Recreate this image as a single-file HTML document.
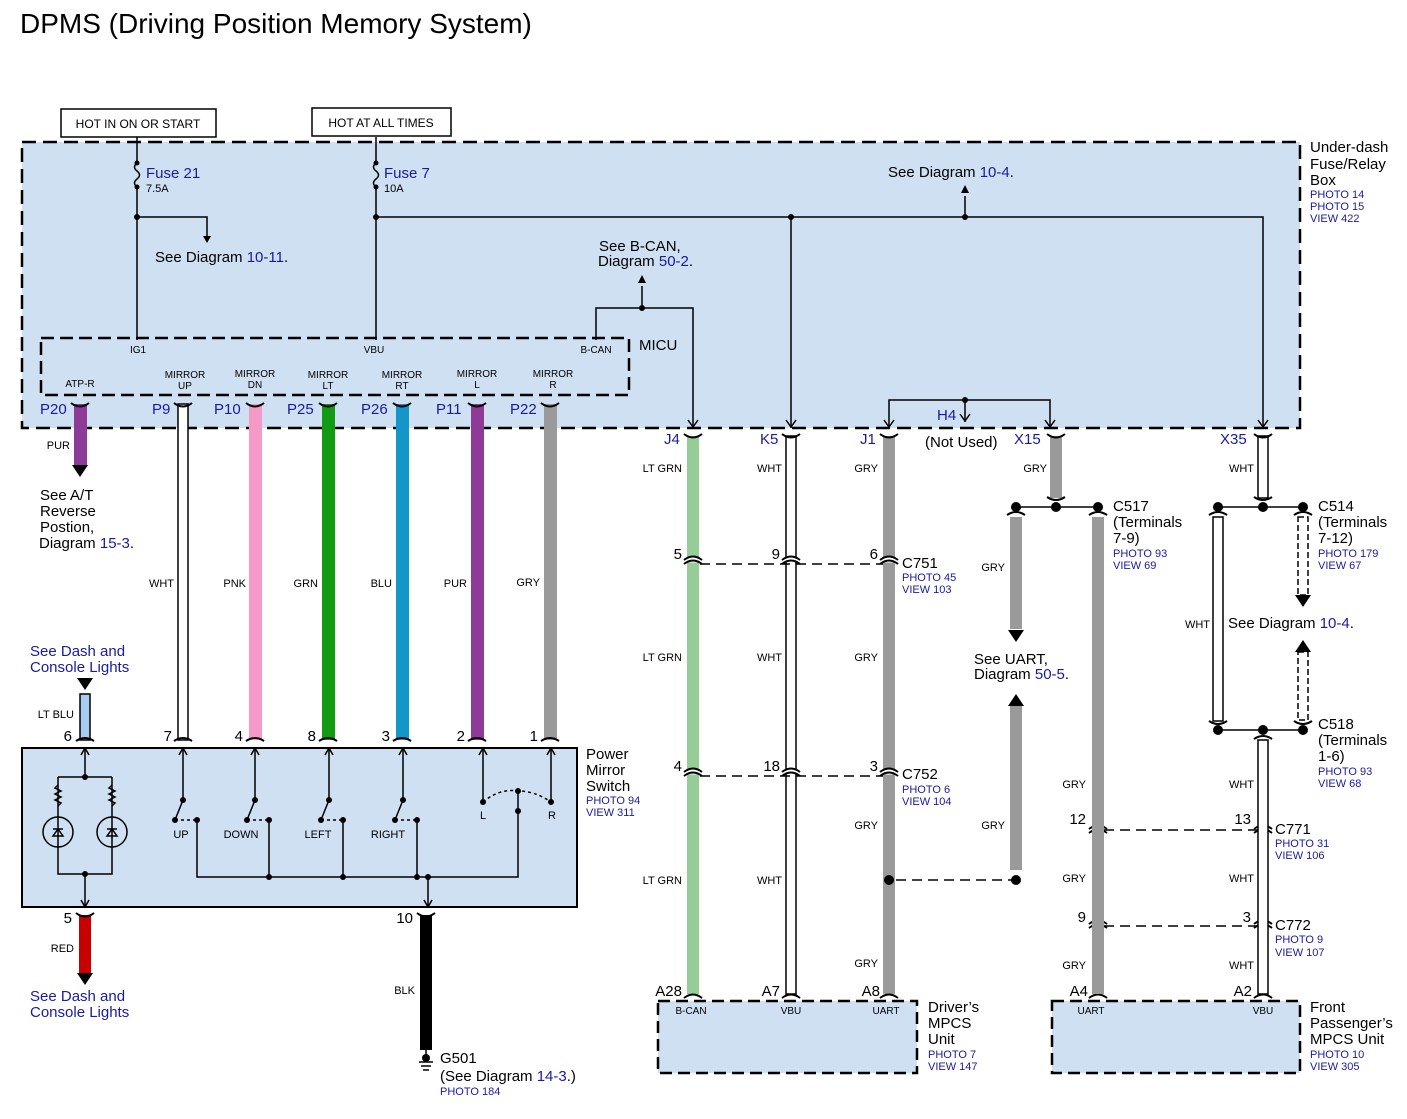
<!DOCTYPE html>
<html><head><meta charset="utf-8"><style>
html,body{margin:0;padding:0;background:#fff}
svg{display:block;font-family:"Liberation Sans",Arial,sans-serif}
.b{fill:#1a1aa0}
.s{font-size:11px}
.m{font-size:15px}
.t{font-size:10px}
</style></head><body>
<svg width="1407" height="1119" viewBox="0 0 1407 1119" xmlns="http://www.w3.org/2000/svg">
<defs>
<path id="cu" d="M-9 4 Q0 -3 9 4 M-9 8 Q0 1 9 8" fill="none" stroke="#000" stroke-width="2"/>
<path id="cd" d="M-9 -2 Q0 5 9 -2" fill="none" stroke="#000" stroke-width="2"/>
<path id="ad" d="M-8 -12 L8 -12 L0 0 Z" fill="#000"/>
<path id="au" d="M-8 12 L8 12 L0 0 Z" fill="#000"/>
<path id="sa" d="M-5 -7 L0 0 L5 -7" fill="none" stroke="#000" stroke-width="1.5"/>
</defs>
<text x="20" y="33" font-size="28">DPMS (Driving Position Memory System)</text>

<rect x="22" y="142" width="1278" height="286" fill="#cfe0f3" stroke="#000" stroke-width="2.5" stroke-dasharray="14 7"/>
<rect x="61" y="109" width="155" height="28" fill="#fff" stroke="#000" stroke-width="1.5"/>
<text x="138" y="128" text-anchor="middle" style="font-size:12px">HOT IN ON OR START</text>
<rect x="312" y="108" width="139" height="28" fill="#fff" stroke="#000" stroke-width="1.5"/>
<text x="381" y="127" text-anchor="middle" style="font-size:12px">HOT AT ALL TIMES</text>
<text x="1310" y="152" class="m">Under-dash</text>
<text x="1310" y="169" class="m">Fuse/Relay</text>
<text x="1310" y="185" class="m">Box</text>
<text x="1310" y="198" class="s b">PHOTO 14</text>
<text x="1310" y="210" class="s b">PHOTO 15</text>
<text x="1310" y="222" class="s b">VIEW 422</text>

<g stroke="#000" stroke-width="1.5" fill="none">
<line x1="137" y1="137" x2="137" y2="163"/>
<path d="M137 163 q-5 4 0 8 q5 4 0 8 q-5 4 0 8"/>
<line x1="137" y1="187" x2="137" y2="340"/>
<line x1="376" y1="137" x2="376" y2="163"/>
<path d="M376 163 q-5 4 0 8 q5 4 0 8 q-5 4 0 8"/>
<line x1="376" y1="187" x2="376" y2="340"/>
<path d="M137 217 H207 V236"/>
<path d="M376 217 H1263 V428"/>
<line x1="791" y1="217" x2="791" y2="428"/>
<line x1="965" y1="217" x2="965" y2="196"/>
<path d="M596 340 V308 H693 V428"/>
<line x1="642" y1="308" x2="642" y2="286"/>
<path d="M889 428 V400 H1050 V428"/>
<line x1="965" y1="400" x2="965" y2="422"/>
</g>
<g fill="#000">
<circle cx="137" cy="163" r="2.5"/><circle cx="137" cy="187" r="2.5"/>
<circle cx="376" cy="163" r="2.5"/><circle cx="376" cy="187" r="2.5"/>
<circle cx="137" cy="217" r="3"/><circle cx="376" cy="217" r="3"/>
<circle cx="791" cy="217" r="3"/><circle cx="965" cy="217" r="3"/>
<circle cx="642" cy="308" r="3"/><circle cx="965" cy="400" r="3"/>
<path d="M203 236 L211 236 L207 243Z"/>
<path d="M961 193 L969 193 L965 185Z"/>
<path d="M638 283 L646 283 L642 275Z"/>
</g>
<use href="#sa" x="693" y="427"/><use href="#sa" x="791" y="427"/><use href="#sa" x="1263" y="427"/>
<use href="#sa" x="889" y="427"/><use href="#sa" x="965" y="421"/><use href="#sa" x="1050" y="427"/>

<text x="146" y="178" class="m b">Fuse 21</text><text x="146" y="192" class="s">7.5A</text>
<text x="384" y="178" class="m b">Fuse 7</text><text x="384" y="192" class="s">10A</text>
<text x="155" y="262" class="m">See Diagram <tspan class="b">10-11</tspan>.</text>
<text x="599" y="251" class="m">See B-CAN,</text>
<text x="598" y="266" class="m">Diagram <tspan class="b">50-2</tspan>.</text>
<text x="888" y="177" class="m">See Diagram <tspan class="b">10-4</tspan>.</text>

<rect x="41" y="338" width="588" height="57" fill="none" stroke="#000" stroke-width="2.5" stroke-dasharray="13 6"/>
<text x="639" y="350" class="m">MICU</text>
<g class="t" text-anchor="middle">
<text x="138" y="353">IG1</text><text x="374" y="353">VBU</text><text x="596" y="353">B-CAN</text>
<text x="80" y="387">ATP-R</text>
<text x="185" y="378">MIRROR</text><text x="185" y="389">UP</text>
<text x="255" y="377">MIRROR</text><text x="255" y="388">DN</text>
<text x="328" y="378">MIRROR</text><text x="328" y="389">LT</text>
<text x="402" y="378">MIRROR</text><text x="402" y="389">RT</text>
<text x="477" y="377">MIRROR</text><text x="477" y="388">L</text>
<text x="553" y="377">MIRROR</text><text x="553" y="388">R</text>
</g>
<g class="m b">
<text x="40" y="414">P20</text><text x="152" y="414">P9</text><text x="214" y="414">P10</text>
<text x="287" y="414">P25</text><text x="361" y="414">P26</text><text x="436" y="414">P11</text><text x="510" y="414">P22</text>
</g>

<rect x="74" y="404" width="13" height="62" fill="#8e3a98"/>
<use href="#ad" x="80" y="477"/>
<rect x="178" y="404" width="10" height="336" fill="#fff" stroke="#000" stroke-width="1.5"/>
<rect x="249" y="404" width="13" height="336" fill="#f59ac8"/>
<rect x="322" y="404" width="13" height="336" fill="#129a12"/>
<rect x="396" y="404" width="13" height="336" fill="#1496c8"/>
<rect x="471" y="404" width="13" height="336" fill="#8e3a98"/>
<rect x="544" y="404" width="13" height="336" fill="#9a9a9a"/>
<g>
<use href="#cd" x="80" y="405"/><use href="#cd" x="183" y="405"/><use href="#cd" x="255" y="405"/><use href="#cd" x="328" y="405"/><use href="#cd" x="402" y="405"/><use href="#cd" x="477" y="405"/><use href="#cd" x="550" y="405"/>
</g>
<g class="s" text-anchor="end">
<text x="70" y="449">PUR</text><text x="174" y="587">WHT</text><text x="246" y="587">PNK</text>
<text x="318" y="587">GRN</text><text x="392" y="587">BLU</text><text x="467" y="587">PUR</text><text x="540" y="586">GRY</text>
<text x="74" y="718">LT BLU</text><text x="74" y="952">RED</text><text x="415" y="994">BLK</text>
</g>
<text x="40" y="500" class="m">See A/T</text><text x="40" y="516" class="m">Reverse</text>
<text x="40" y="532" class="m">Postion,</text><text x="39" y="548" class="m">Diagram <tspan class="b">15-3</tspan>.</text>
<text x="30" y="656" class="m b">See Dash and</text><text x="30" y="672" class="m b">Console Lights</text>
<use href="#ad" x="85" y="690"/>
<rect x="80" y="694" width="10" height="46" fill="#a8cdf0" stroke="#000" stroke-width="1.5"/>
<g stroke="#000" stroke-width="2" fill="none">
<path d="M76 741 Q85 735 94 741"/><path d="M174 741 Q183 735 192 741"/><path d="M246 741 Q255 735 264 741"/><path d="M319 741 Q328 735 337 741"/><path d="M393 741 Q402 735 411 741"/><path d="M468 741 Q477 735 486 741"/><path d="M541 741 Q550 735 559 741"/>
</g>
<g class="m" text-anchor="end">
<text x="72" y="741">6</text><text x="172" y="741">7</text><text x="243" y="741">4</text><text x="316" y="741">8</text><text x="390" y="741">3</text><text x="465" y="741">2</text><text x="538" y="741">1</text>
<text x="72" y="923">5</text><text x="413" y="923">10</text>
</g>

<rect x="22" y="748" width="555" height="159" fill="#cfe0f3" stroke="#000" stroke-width="2"/>
<text x="586" y="759" class="m">Power</text><text x="586" y="775" class="m">Mirror</text><text x="586" y="791" class="m">Switch</text>
<text x="586" y="804" class="s b">PHOTO 94</text><text x="586" y="816" class="s b">VIEW 311</text>
<g stroke="#000" stroke-width="1.5" fill="none">
<line x1="85" y1="748" x2="85" y2="777"/>
<path d="M58 777 H112 M58 777 V874 H112 V777"/>
<line x1="85" y1="874" x2="85" y2="907"/>
<path d="M58 785 l-3 3 6 3 -6 3 6 3 -6 3 6 3 -3 3"/>
<path d="M112 785 l-3 3 6 3 -6 3 6 3 -6 3 6 3 -3 3"/>
<circle cx="58" cy="832" r="15"/><circle cx="112" cy="832" r="15"/>
<path d="M53 829 h10 M58 829 l-5 7 h10z M53 836 h10"/><path d="M107 829 h10 M112 829 l-5 7 h10z M107 836 h10"/>
<line x1="183" y1="748" x2="183" y2="800"/><line x1="183" y1="800" x2="175" y2="820"/>
<line x1="255" y1="748" x2="255" y2="800"/><line x1="255" y1="800" x2="247" y2="820"/>
<line x1="329" y1="748" x2="329" y2="800"/><line x1="329" y1="800" x2="321" y2="820"/>
<line x1="403" y1="748" x2="403" y2="800"/><line x1="403" y1="800" x2="395" y2="820"/>
<line x1="483" y1="748" x2="483" y2="802"/><line x1="551" y1="748" x2="551" y2="802"/>
<path d="M483 802 Q500 788 518 791 Q535 791 551 802" stroke-dasharray="3 3"/>
<path d="M175 820 h22 M247 820 h22 M321 820 h22 M395 820 h22" stroke-dasharray="3 3"/>
<path d="M197 820 V877 H518 V791"/>
<line x1="269" y1="820" x2="269" y2="877"/><line x1="343" y1="820" x2="343" y2="877"/><line x1="417" y1="820" x2="417" y2="877"/>
<line x1="428" y1="877" x2="428" y2="907"/>
</g>
<g fill="#000">
<circle cx="85" cy="777" r="3"/><circle cx="85" cy="874" r="3"/>
<circle cx="183" cy="800" r="3"/><circle cx="175" cy="820" r="3"/><circle cx="197" cy="820" r="3"/>
<circle cx="255" cy="800" r="3"/><circle cx="247" cy="820" r="3"/><circle cx="269" cy="820" r="3"/>
<circle cx="329" cy="800" r="3"/><circle cx="321" cy="820" r="3"/><circle cx="343" cy="820" r="3"/>
<circle cx="403" cy="800" r="3"/><circle cx="395" cy="820" r="3"/><circle cx="417" cy="820" r="3"/>
<circle cx="483" cy="802" r="3"/><circle cx="551" cy="802" r="3"/><circle cx="518" cy="791" r="3"/><circle cx="518" cy="811" r="3"/>
<circle cx="269" cy="877" r="3"/><circle cx="343" cy="877" r="3"/><circle cx="417" cy="877" r="3"/><circle cx="428" cy="877" r="3"/>
</g>
<g class="s" text-anchor="middle">
<text x="181" y="838">UP</text><text x="241" y="838">DOWN</text><text x="318" y="838">LEFT</text><text x="388" y="838">RIGHT</text>
<text x="483" y="819">L</text><text x="552" y="819">R</text>
</g>
<g stroke="#000" stroke-width="1.5" fill="none">
<path d="M81 755 L85 748 L89 755 M179 755 L183 748 L187 755 M251 755 L255 748 L259 755 M325 755 L329 748 L333 755 M399 755 L403 748 L407 755 M479 755 L483 748 L487 755 M547 755 L551 748 L555 755 M81 900 L85 907 L89 900 M424 900 L428 907 L432 900"/>
</g>
<rect x="79" y="915" width="12" height="58" fill="#c80000"/><use href="#cd" x="85" y="915"/>
<use href="#ad" x="85" y="985"/>
<text x="30" y="1001" class="m b">See Dash and</text><text x="30" y="1017" class="m b">Console Lights</text>
<rect x="420" y="915" width="12" height="135" fill="#000"/><use href="#cd" x="426" y="915"/>
<g stroke="#000" stroke-width="1.5"><line x1="426" y1="1050" x2="426" y2="1060"/><line x1="419" y1="1062" x2="433" y2="1062"/><line x1="421" y1="1066" x2="431" y2="1066"/><line x1="423" y1="1070" x2="429" y2="1070"/></g>
<circle cx="426" cy="1058" r="4" fill="#000"/>
<text x="440" y="1063" class="m">G501</text>
<text x="440" y="1081" class="m">(See Diagram <tspan class="b">14-3</tspan>.)</text>
<text x="440" y="1095" class="s b">PHOTO 184</text>

<rect x="687" y="436" width="12" height="558" fill="#96cc96"/>
<rect x="786" y="436" width="10" height="558" fill="#fff" stroke="#000" stroke-width="1.5"/>
<rect x="883" y="436" width="12" height="558" fill="#9a9a9a"/>
<rect x="1050" y="436" width="12" height="62" fill="#9a9a9a"/>
<rect x="1258" y="436" width="10" height="62" fill="#fff" stroke="#000" stroke-width="1.5"/>
<g stroke="#fff" stroke-width="5"><line x1="680" y1="560" x2="900" y2="560"/><line x1="680" y1="772" x2="900" y2="772"/></g>
<g stroke="#000" stroke-width="1.5" stroke-dasharray="10 6"><line x1="700" y1="564" x2="883" y2="564"/><line x1="700" y1="776" x2="883" y2="776"/><line x1="896" y1="880" x2="1016" y2="880"/><line x1="1104" y1="830" x2="1258" y2="830"/><line x1="1104" y1="926" x2="1258" y2="926"/></g>
<g>
<use href="#cd" x="693" y="436"/><use href="#cd" x="791" y="436"/><use href="#cd" x="889" y="436"/><use href="#cd" x="1056" y="436"/><use href="#cd" x="1263" y="436"/>
<use href="#cu" x="693" y="556"/><use href="#cu" x="791" y="556"/><use href="#cu" x="889" y="556"/>
<use href="#cu" x="693" y="768"/><use href="#cu" x="791" y="768"/><use href="#cu" x="889" y="768"/>
<use href="#cu" x="1098" y="825"/><use href="#cu" x="1263" y="825"/><use href="#cu" x="1098" y="920"/><use href="#cu" x="1263" y="920"/>
</g>
<g stroke="#000" stroke-width="2" fill="none">
<path d="M684 998 Q693 991 702 998 M782 998 Q791 991 800 998 M880 998 Q889 991 898 998 M1089 998 Q1098 991 1107 998 M1254 998 Q1263 991 1272 998"/>
<path d="M1047 497 Q1056 503 1065 497 M1254 497 Q1263 503 1272 497"/>
<path d="M1007 515 Q1016 509 1025 515 M1089 515 Q1098 509 1107 515 M1209 515 Q1218 509 1227 515 M1294 515 Q1303 509 1312 515"/>
<path d="M1209 721 Q1218 727 1227 721 M1294 721 Q1303 727 1312 721 M1254 739 Q1263 733 1272 739"/>
</g>
<g class="m b"><text x="664" y="444">J4</text><text x="760" y="444">K5</text><text x="860" y="444">J1</text><text x="937" y="420">H4</text><text x="1014" y="444">X15</text><text x="1220" y="444">X35</text></g>
<text x="925" y="447" class="m">(Not Used)</text>
<g class="s" text-anchor="end">
<text x="682" y="472">LT GRN</text><text x="782" y="472">WHT</text><text x="878" y="472">GRY</text><text x="1047" y="472">GRY</text><text x="1254" y="472">WHT</text>
<text x="682" y="661">LT GRN</text><text x="782" y="661">WHT</text><text x="878" y="661">GRY</text>
<text x="682" y="884">LT GRN</text><text x="782" y="884">WHT</text><text x="878" y="829">GRY</text><text x="878" y="967">GRY</text>
<text x="1005" y="571">GRY</text><text x="1005" y="829">GRY</text><text x="1210" y="628">WHT</text>
<text x="1086" y="788">GRY</text><text x="1086" y="882">GRY</text><text x="1086" y="969">GRY</text>
<text x="1254" y="788">WHT</text><text x="1254" y="882">WHT</text><text x="1254" y="969">WHT</text>
</g>
<g class="m" text-anchor="end">
<text x="682" y="559">5</text><text x="780" y="559">9</text><text x="878" y="559">6</text>
<text x="682" y="771">4</text><text x="780" y="771">18</text><text x="878" y="771">3</text>
<text x="1086" y="824">12</text><text x="1251" y="824">13</text><text x="1086" y="922">9</text><text x="1251" y="922">3</text>
<text x="682" y="996">A28</text><text x="780" y="996">A7</text><text x="880" y="996">A8</text><text x="1088" y="996">A4</text><text x="1252" y="996">A2</text>
</g>
<text x="902" y="568" class="m">C751</text><text x="902" y="581" class="s b">PHOTO 45</text><text x="902" y="593" class="s b">VIEW 103</text>
<text x="902" y="779" class="m">C752</text><text x="902" y="793" class="s b">PHOTO 6</text><text x="902" y="805" class="s b">VIEW 104</text>

<g stroke="#000" stroke-width="1.5"><line x1="1016" y1="507" x2="1098" y2="507"/><line x1="1218" y1="507" x2="1303" y2="507"/><line x1="1218" y1="730" x2="1303" y2="730"/></g>
<g fill="#000"><circle cx="1016" cy="507" r="5"/><circle cx="1056" cy="507" r="5"/><circle cx="1098" cy="507" r="5"/><circle cx="1218" cy="507" r="5"/><circle cx="1263" cy="507" r="5"/><circle cx="1303" cy="507" r="5"/><circle cx="1218" cy="730" r="5"/><circle cx="1263" cy="730" r="5"/><circle cx="1303" cy="730" r="5"/><circle cx="889" cy="880" r="5"/><circle cx="1016" cy="880" r="5"/></g>
<rect x="1010" y="517" width="12" height="112" fill="#9a9a9a"/><use href="#ad" x="1016" y="642"/>
<use href="#au" x="1016" y="694"/><rect x="1010" y="706" width="12" height="164" fill="#9a9a9a"/>
<rect x="1092" y="517" width="12" height="477" fill="#9a9a9a"/>
<text x="974" y="664" class="m">See UART,</text><text x="974" y="679" class="m">Diagram <tspan class="b">50-5</tspan>.</text>
<text x="1113" y="511" class="m">C517</text><text x="1113" y="527" class="m">(Terminals</text><text x="1113" y="543" class="m">7-9)</text>
<text x="1113" y="557" class="s b">PHOTO 93</text><text x="1113" y="569" class="s b">VIEW 69</text>

<rect x="1213" y="517" width="10" height="204" fill="#fff" stroke="#000" stroke-width="1.5"/>
<rect x="1298" y="517" width="10" height="78" fill="#fff" stroke="#000" stroke-width="1.5" stroke-dasharray="6 3"/>
<use href="#ad" x="1303" y="607"/>
<use href="#au" x="1303" y="640"/>
<rect x="1298" y="652" width="10" height="68" fill="#fff" stroke="#000" stroke-width="1.5" stroke-dasharray="6 3"/>
<rect x="1258" y="740" width="10" height="254" fill="#fff" stroke="#000" stroke-width="1.5"/>
<text x="1228" y="628" class="m">See Diagram <tspan class="b">10-4</tspan>.</text>
<text x="1318" y="511" class="m">C514</text><text x="1318" y="527" class="m">(Terminals</text><text x="1318" y="543" class="m">7-12)</text>
<text x="1318" y="557" class="s b">PHOTO 179</text><text x="1318" y="569" class="s b">VIEW 67</text>
<text x="1318" y="729" class="m">C518</text><text x="1318" y="745" class="m">(Terminals</text><text x="1318" y="761" class="m">1-6)</text>
<text x="1318" y="775" class="s b">PHOTO 93</text><text x="1318" y="787" class="s b">VIEW 68</text>
<text x="1275" y="834" class="m">C771</text><text x="1275" y="847" class="s b">PHOTO 31</text><text x="1275" y="859" class="s b">VIEW 106</text>
<text x="1275" y="930" class="m">C772</text><text x="1275" y="943" class="s b">PHOTO 9</text><text x="1275" y="956" class="s b">VIEW 107</text>

<rect x="658" y="1001" width="259" height="72" fill="#cfe0f3" stroke="#000" stroke-width="2.5" stroke-dasharray="12 6"/>
<rect x="1052" y="1001" width="248" height="72" fill="#cfe0f3" stroke="#000" stroke-width="2.5" stroke-dasharray="12 6"/>
<g class="t" text-anchor="middle"><text x="691" y="1014">B-CAN</text><text x="791" y="1014">VBU</text><text x="886" y="1014">UART</text><text x="1091" y="1014">UART</text><text x="1263" y="1014">VBU</text></g>
<text x="928" y="1012" class="m">Driver’s</text><text x="928" y="1028" class="m">MPCS</text><text x="928" y="1044" class="m">Unit</text>
<text x="928" y="1058" class="s b">PHOTO 7</text><text x="928" y="1070" class="s b">VIEW 147</text>
<text x="1310" y="1012" class="m">Front</text><text x="1310" y="1028" class="m">Passenger’s</text><text x="1310" y="1044" class="m">MPCS Unit</text>
<text x="1310" y="1058" class="s b">PHOTO 10</text><text x="1310" y="1070" class="s b">VIEW 305</text>
</svg>
</body></html>
